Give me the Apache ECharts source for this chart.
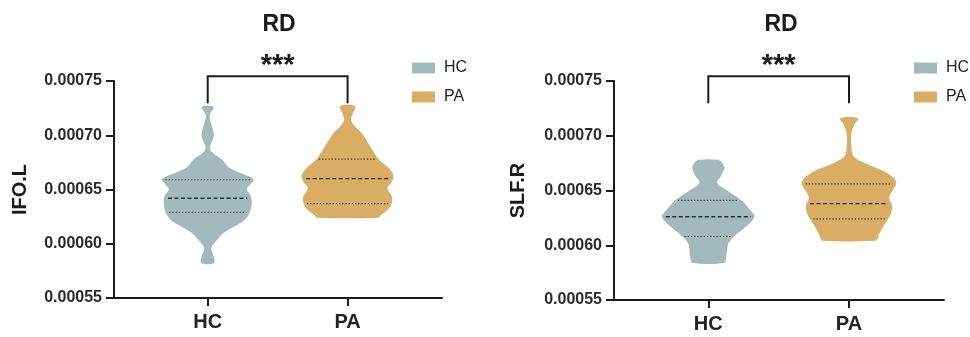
<!DOCTYPE html>
<html>
<head>
<meta charset="utf-8">
<script src="https://cdn.jsdelivr.net/npm/echarts@6/dist/echarts.min.js"></script>
<style>
html,body{margin:0;padding:0;background:#fff}
#main{width:970px;height:337px}
</style>
</head>
<body>
<div id="main"></div>
<script>
const groups = ['HC', 'PA']
const groupColors = ['#a3babc', '#d9ae64']
const panelTitles = ['RD', 'RD']
const yNames = ['IFO.L', 'SLF.R']
const sigLabel = '***'

// violin outlines: [value, relative width], bottom to top
const ifoHC = [
  [0.000582, 0.13], [0.000588, 0.13], [0.000596, 0.075], [0.000603, 0.19],
  [0.000610, 0.34], [0.000616, 0.57], [0.000622, 0.79], [0.000628, 0.89],
  [0.000637, 0.94], [0.000645, 0.91], [0.000650, 0.83], [0.000654, 0.89],
  [0.000659, 0.98], [0.000662, 0.89], [0.000666, 0.66], [0.000671, 0.43],
  [0.000677, 0.32], [0.000687, 0.05], [0.000700, 0.13], [0.000718, 0.04],
  [0.000726, 0.13]
]
const ifoPA = [
  [0.000624, 0.66], [0.000626, 0.70], [0.000631, 0.85], [0.000637, 0.94],
  [0.000643, 0.95], [0.000651, 0.85], [0.000657, 0.94], [0.000663, 0.98],
  [0.000671, 0.85], [0.000677, 0.68], [0.000685, 0.55], [0.000692, 0.45],
  [0.000702, 0.30], [0.000708, 0.16], [0.000714, 0.075], [0.000720, 0.11],
  [0.000727, 0.16]
]
const slfHC = [
  [0.000584, 0.34], [0.000589, 0.38], [0.000596, 0.40], [0.000602, 0.43],
  [0.000609, 0.57], [0.000618, 0.83], [0.000626, 0.98], [0.000632, 0.89],
  [0.000641, 0.70], [0.000650, 0.40], [0.000657, 0.19], [0.000664, 0.28],
  [0.000670, 0.34], [0.000675, 0.30], [0.000678, 0.21]
]
const slfPA = [
  [0.000604, 0.55], [0.000606, 0.60], [0.000612, 0.66], [0.000620, 0.77],
  [0.000629, 0.89], [0.000637, 0.91], [0.000643, 0.85], [0.000649, 0.91],
  [0.000656, 1.00], [0.000661, 0.96], [0.000667, 0.77], [0.000675, 0.34],
  [0.000681, 0.10], [0.000690, 0.05], [0.000702, 0.05], [0.000710, 0.11],
  [0.000716, 0.19]
]
// quartiles: [q1, median, q3]
const ifoHCQuart = [0.000629, 0.000642, 0.000659]
const ifoPAQuart = [0.000637, 0.000660, 0.000678]
const slfHCQuart = [0.000608, 0.000626, 0.000641]
const slfPAQuart = [0.000624, 0.000638, 0.000656]
// significance bracket: [top value, leg end value]
const ifoSig = [0.0007543, 0.0007295]
const slfSig = [0.0007543, 0.0007297]

const panels = [
  {profiles: [ifoHC, ifoPA], quarts: [ifoHCQuart, ifoPAQuart], sig: ifoSig},
  {profiles: [slfHC, slfPA], quarts: [slfHCQuart, slfPAQuart], sig: slfSig}
]

const halfWidth = 0.335
const lineColor = '#1c1c1c'
const font = 'Liberation Sans, Arial, sans-serif'

function widthAt(profile, v) {
  for (let i = 1; i < profile.length; i++) {
    const a = profile[i - 1], b = profile[i]
    if (v >= a[0] && v <= b[0]) {
      return a[1] + (b[1] - a[1]) * (v - a[0]) / (b[0] - a[0])
    }
  }
  return 0
}

function violinRender(profile, quart, pos, color) {
  return function (params, api) {
    const right = profile.map(p => api.coord([pos + p[1] * halfWidth, p[0]]))
    const left = profile.slice().reverse().map(p => api.coord([pos - p[1] * halfWidth, p[0]]))
    const children = [{
      type: 'polygon',
      shape: {points: right.concat(left), smooth: 0.35},
      style: {fill: color, stroke: null}
    }]
    quart.forEach((q, i) => {
      const w = widthAt(profile, q) * halfWidth * 0.92
      const a = api.coord([pos - w, q])
      const b = api.coord([pos + w, q])
      children.push({
        type: 'line',
        shape: {x1: a[0], y1: a[1], x2: b[0], y2: b[1]},
        style: {
          stroke: '#2a2a2a',
          lineWidth: i === 1 ? 1.4 : 1.2,
          lineDash: i === 1 ? [4, 2.5] : [1.2, 2]
        }
      })
    })
    return {type: 'group', children: children}
  }
}

function sigRender(sig) {
  return function (params, api) {
    const p1 = api.coord([1, sig[1]])
    const p2 = api.coord([1, sig[0]])
    const p3 = api.coord([2, sig[0]])
    const p4 = api.coord([2, sig[1]])
    return {
      type: 'group',
      children: [{
        type: 'polyline',
        shape: {points: [p1, p2, p3, p4]},
        style: {stroke: lineColor, lineWidth: 2, fill: null}
      }, {
        type: 'text',
        style: {
          text: sigLabel, x: (p2[0] + p3[0]) / 2, y: p2[1] + 4,
          align: 'center', verticalAlign: 'bottom',
          font: 'bold 29px ' + font, fill: lineColor
        }
      }]
    }
  }
}

const grids = [
  {left: 114, top: 81, width: 328, height: 217},
  {left: 614, top: 81, width: 330, height: 219}
]
const titleX = [274, 776]
const yNameGap = [84, 86]
const legendX = [407, 909]

const option = {
  animation: false,
  title: panelTitles.map((t, i) => ({
    text: t, left: titleX[i], top: 8, textAlign: 'center',
    textStyle: {fontFamily: font, fontWeight: 'bold', fontSize: 23, color: '#1a1a1a'}
  })),
  legend: legendX.map(x => ({
    data: groups, left: x, top: 55, orient: 'vertical',
    icon: 'rect', itemWidth: 23, itemHeight: 11, itemGap: 13,
    textStyle: {fontFamily: font, fontSize: 16, color: '#222', padding: [0, 0, 0, 4]}
  })),
  grid: grids,
  xAxis: grids.map((g, i) => ({
    type: 'value', gridIndex: i, min: 0.33, max: 2.675,
    splitLine: {show: false},
    axisLine: {lineStyle: {color: lineColor, width: 2}},
    axisTick: {customValues: [1, 2], length: 8, lineStyle: {color: lineColor, width: 2}},
    axisLabel: {
      customValues: [1, 2], margin: 14,
      formatter: v => groups[Math.round(v) - 1],
      fontFamily: font, fontWeight: 'bold', fontSize: 20, color: '#222'
    }
  })),
  yAxis: grids.map((g, i) => ({
    type: 'value', gridIndex: i, min: 0.00055, max: 0.00075, interval: 0.00005,
    name: yNames[i], nameLocation: 'middle', nameGap: yNameGap[i], nameRotate: 90,
    nameTextStyle: {fontFamily: font, fontWeight: 'bold', fontSize: 20, color: '#1a1a1a'},
    splitLine: {show: false},
    axisLine: {show: true, lineStyle: {color: lineColor, width: 2}},
    axisTick: {show: true, length: 8, lineStyle: {color: lineColor, width: 2}},
    axisLabel: {
      margin: 12, formatter: v => v.toFixed(5),
      fontFamily: font, fontWeight: 'bold', fontSize: 16, color: '#2a2a2a'
    }
  })),
  series: []
}

panels.forEach((p, i) => {
  groups.forEach((g, j) => {
    option.series.push({
      type: 'custom', name: g, xAxisIndex: i, yAxisIndex: i,
      itemStyle: {color: groupColors[j]},
      data: [[j + 1, p.quarts[j][1]]],
      renderItem: violinRender(p.profiles[j], p.quarts[j], j + 1, groupColors[j])
    })
  })
  option.series.push({
    type: 'custom', name: 'sig', xAxisIndex: i, yAxisIndex: i,
    data: [[1.5, p.sig[0]]], silent: true,
    renderItem: sigRender(p.sig)
  })
})

const chart = echarts.init(document.getElementById('main'))
chart.setOption(option)
</script>
</body>
</html>
